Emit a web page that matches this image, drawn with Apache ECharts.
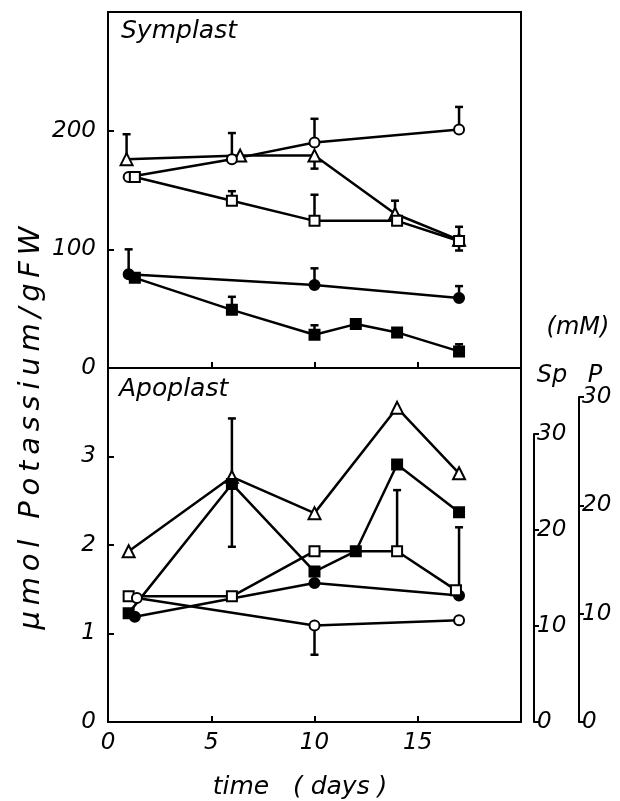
<!DOCTYPE html>
<html>
<head>
<meta charset="utf-8">
<script src="https://cdn.jsdelivr.net/npm/echarts@6/dist/echarts.min.js"></script>
<style>
  html, body { margin: 0; padding: 0; background: #fff; }
  #main { width: 620px; height: 801px; }
</style>
</head>
<body>
<div id="main"></div>
<script>
// x axis
var dayTicks = [0, 5, 10, 15];

// Symplast (umol / g FW)
var symTriDays = [0.9, 6.4, 10, 13.9, 17];
var symTri = [176, 179, 179, 130, 108];
var symCirDays = [1.0, 6, 10, 17];
var symCir = [161, 176, 190, 201];
var symSqDays = [1.3, 6, 10, 14, 17];
var symSq = [161, 141, 124, 124, 107];
var symDotDays = [1.0, 10, 17];
var symDot = [79, 70, 59];
var symBoxDays = [1.3, 6, 10, 12, 14, 17];
var symBox = [76, 49, 28, 37, 30, 14];

// Symplast error bars: [day, mean, end]
var symTriErr = [[0.9, 176, 197], [10, 179, 168], [13.9, 130, 141], [17, 108, 119], [17, 108, 99]];
var symCirErr = [[6, 176, 198], [10, 190, 210], [17, 201, 220]];
var symSqErr = [[6, 141, 149], [10, 124, 146]];
var symDotErr = [[1.0, 79, 100], [10, 70, 84], [17, 59, 69]];
var symBoxErr = [[6, 49, 60], [10, 28, 36], [17, 14, 20]];

// Apoplast
var apoTriDays = [1.0, 6, 10, 14, 17];
var apoTri = [1.93, 2.77, 2.36, 3.55, 2.81];
var apoBoxDays = [1.0, 6, 10, 12, 14, 17];
var apoBox = [1.23, 2.69, 1.70, 1.93, 2.91, 2.37];
var apoDotDays = [1.3, 10, 17];
var apoDot = [1.19, 1.57, 1.43];
var apoSqDays = [1.0, 6, 10, 14, 16.85];
var apoSq = [1.42, 1.42, 1.93, 1.93, 1.49];
var apoCirDays = [1.4, 10, 17];
var apoCir = [1.40, 1.09, 1.15];

var apoBoxErr = [[6, 2.69, 3.43], [6, 2.69, 1.98]];
var apoSqErr = [[14, 1.93, 2.62], [17, 1.49, 2.20]];
var apoCirErr = [[10, 1.09, 0.76]];

var FONT = 'DejaVu Sans';

function zip(xs, ys) {
  return xs.map(function (x, i) { return [x, ys[i]]; });
}

function errRender(params, api) {
  var p0 = api.coord([api.value(0), api.value(1)]);
  var p1 = api.coord([api.value(0), api.value(2)]);
  var st = { stroke: '#000', lineWidth: 2.5 };
  return {
    type: 'group',
    children: [
      { type: 'line', shape: { x1: p0[0], y1: p0[1], x2: p1[0], y2: p1[1] }, style: st },
      { type: 'line', shape: { x1: p1[0] - 4, y1: p1[1], x2: p1[0] + 4, y2: p1[1] }, style: st }
    ]
  };
}

function lineSeries(idx, xs, ys, symbol, filled) {
  return {
    type: 'line',
    xAxisIndex: idx, yAxisIndex: idx,
    data: zip(xs, ys),
    symbol: symbol,
    symbolSize: symbol === 'triangle' ? 12 : 10,
    showAllSymbol: true,
    z: 3,
    lineStyle: { color: '#000', width: 2.5 },
    itemStyle: { color: filled ? '#000' : '#fff', borderColor: '#000', borderWidth: 2 },
    animation: false
  };
}

function errSeries(idx, data) {
  return {
    type: 'custom',
    xAxisIndex: idx, yAxisIndex: idx,
    data: data,
    encode: { x: 0, y: [1, 2] },
    renderItem: errRender,
    z: 2,
    animation: false
  };
}

var numLabel = { fontFamily: FONT, fontStyle: 'italic', fontSize: 23, color: '#000' };

function xAxisOpt(idx, showLabels) {
  return {
    type: 'value', gridIndex: idx, min: 0, max: 20, interval: 5,
    axisLine: { show: true, lineStyle: { color: '#000', width: 2 } },
    axisTick: { show: true, inside: true, length: 6, lineStyle: { color: '#000', width: 2 } },
    axisLabel: Object.assign({
      show: showLabels, margin: 10,
      formatter: function (v) { return dayTicks.indexOf(v) >= 0 ? String(v) : ''; }
    }, numLabel),
    splitLine: { show: false }
  };
}

function yAxisOpt(idx, max, interval, hideTop) {
  return {
    type: 'value', gridIndex: idx, min: 0, max: max, interval: interval,
    axisLine: { show: true, lineStyle: { color: '#000', width: 2 } },
    axisTick: { show: true, inside: true, length: 6, lineStyle: { color: '#000', width: 2 } },
    axisLabel: Object.assign({
      margin: 12,
      formatter: function (v) { return v === hideTop ? '' : String(v); }
    }, numLabel),
    splitLine: { show: false }
  };
}

function mmAxis(idx) {
  return {
    type: 'value', gridIndex: idx, position: 'right', min: 0, max: 30, interval: 10,
    axisLine: { show: true, lineStyle: { color: '#000', width: 2 } },
    axisTick: { show: true, length: 5, lineStyle: { color: '#000', width: 2 } },
    axisLabel: Object.assign({ margin: 2 }, numLabel),
    splitLine: { show: false }
  };
}

var chart = echarts.init(document.getElementById('main'), null, { renderer: 'canvas' });

var gridBorder = { show: true, borderColor: '#000', borderWidth: 2, backgroundColor: 'transparent' };

// y title is letter-spaced in the original, thin spaces imitate that
var yTitle = 'µmol Potassium/gFW'.split('').join('\u2009');

chart.setOption({
  backgroundColor: '#fff',
  animation: false,
  grid: [
    Object.assign({ left: 108, top: 12, width: 413, height: 356 }, gridBorder),
    Object.assign({ left: 108, top: 368, width: 413, height: 354 }, gridBorder),
    { left: 534, top: 434, width: 1, height: 288 },
    { left: 579, top: 397, width: 1, height: 325 }
  ],
  xAxis: [
    xAxisOpt(0, false),
    xAxisOpt(1, true),
    { type: 'value', gridIndex: 2, show: false, min: 0, max: 1 },
    { type: 'value', gridIndex: 3, show: false, min: 0, max: 1 }
  ],
  yAxis: [
    yAxisOpt(0, 300, 100, 300),
    yAxisOpt(1, 4, 1, 4),
    mmAxis(2),
    mmAxis(3)
  ],
  graphic: [
    { type: 'text', left: 121, top: 19, style: { text: 'Symplast', font: 'italic 25px "' + FONT + '"', fill: '#000' } },
    { type: 'text', left: 119, top: 377, style: { text: 'Apoplast', font: 'italic 25px "' + FONT + '"', fill: '#000' } },
    { type: 'text', x: 300, y: 787, style: { text: 'time   ( days )', font: 'italic 25px "' + FONT + '"', fill: '#000', align: 'center', verticalAlign: 'middle' } },
    { type: 'text', x: 31, y: 428, rotation: Math.PI / 2, style: { text: yTitle, font: 'italic 29px "' + FONT + '"', fill: '#000', align: 'center', verticalAlign: 'middle' } },
    { type: 'text', x: 578, y: 328, style: { text: '(mM)', font: 'italic 24px "' + FONT + '"', fill: '#000', align: 'center', verticalAlign: 'middle' } },
    { type: 'text', x: 552, y: 376, style: { text: 'Sp', font: 'italic 24px "' + FONT + '"', fill: '#000', align: 'center', verticalAlign: 'middle' } },
    { type: 'text', x: 595, y: 376, style: { text: 'P', font: 'italic 24px "' + FONT + '"', fill: '#000', align: 'center', verticalAlign: 'middle' } }
  ],
  series: [
    errSeries(0, symTriErr),
    errSeries(0, symCirErr),
    errSeries(0, symSqErr),
    errSeries(0, symDotErr),
    errSeries(0, symBoxErr),
    lineSeries(0, symTriDays, symTri, 'triangle', false),
    lineSeries(0, symCirDays, symCir, 'circle', false),
    lineSeries(0, symSqDays, symSq, 'rect', false),
    lineSeries(0, symDotDays, symDot, 'circle', true),
    lineSeries(0, symBoxDays, symBox, 'rect', true),

    errSeries(1, apoBoxErr),
    errSeries(1, apoSqErr),
    errSeries(1, apoCirErr),
    lineSeries(1, apoTriDays, apoTri, 'triangle', false),
    lineSeries(1, apoBoxDays, apoBox, 'rect', true),
    lineSeries(1, apoDotDays, apoDot, 'circle', true),
    lineSeries(1, apoSqDays, apoSq, 'rect', false),
    lineSeries(1, apoCirDays, apoCir, 'circle', false)
  ]
});
</script>
</body>
</html>
